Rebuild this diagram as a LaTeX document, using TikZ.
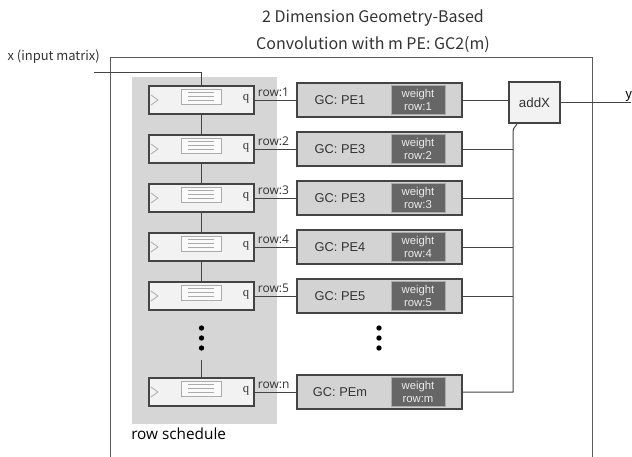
\documentclass[tikz,border=0pt]{standalone}
\usepackage{fontspec}
\setmainfont{Liberation Sans}
\newfontfamily\titlefont{Noto Sans CJK JP}
\newfontfamily\rowfont{Open Sans}
\newfontfamily\qfont{Liberation Serif}
\usetikzlibrary{calc}

\definecolor{linecol}{HTML}{444444}
\definecolor{framecol}{HTML}{5A5A5A}
\definecolor{bgcol}{HTML}{D6D6D6}
\definecolor{pecol}{HTML}{D3D3D3}
\definecolor{wcol}{HTML}{666666}
\definecolor{regcol}{HTML}{F2F2F2}
\definecolor{faint}{HTML}{ABABAB}
\definecolor{txtcol}{HTML}{333333}

\tikzset{
  conn/.style={draw=linecol, line width=0.75pt},
  regbox/.style={draw=linecol, fill=regcol, line width=1pt,
    minimum width=78.75pt, minimum height=21pt, inner sep=0pt},
  pebox/.style={draw=linecol, fill=pecol, line width=0.8pt,
    minimum width=123.75pt, minimum height=25.5pt, inner sep=0pt},
  wbox/.style={draw=faint, fill=wcol, line width=0.4pt, text=white!92!black,
    minimum width=40.5pt, minimum height=21.75pt, inner sep=0pt, align=center,
    font=\fontsize{8.5}{9.8}\selectfont},
  pelab/.style={text=txtcol, inner sep=0pt, font=\fontsize{9.6}{11}\selectfont},
  rowlab/.style={text=txtcol, inner sep=0pt, font=\rowfont\fontsize{9}{10}\selectfont},
  addbox/.style={draw=linecol, fill=regcol, line width=0.9pt,
    minimum width=38.25pt, minimum height=30.75pt, inner sep=0pt,
    text=txtcol, font=\fontsize{10}{12}\selectfont},
  faintline/.style={draw=faint, line width=0.6pt},
  dot/.style={circle, fill=black, inner sep=0pt, minimum size=4pt},
}

\begin{document}
\begin{tikzpicture}[x=0.75pt, y=-0.75pt]
\useasboundingbox (0,0) rectangle (632,457);

% title
\node[text=txtcol, font=\titlefont\fontsize{12}{14}\selectfont] (title1) at (373,18) {2 Dimension Geometry-Based};
\node[text=txtcol, font=\titlefont\fontsize{12}{14}\selectfont] (title2) at (373,45) {Convolution with m PE: GC2(m)};

% outer frame (open at the bottom)
\draw[draw=framecol, line width=0.75pt] (110,460) -- (110,57) -- (592,57) -- (592,460);

% row schedule background
\fill[bgcol] (132,77) rectangle (277,424);
\node[anchor=west, text=black, inner sep=0pt, font=\rowfont\fontsize{11.5}{13}\selectfont] (rslab) at (131,434) {row schedule};

% input label
\node[anchor=east, text=txtcol, inner sep=0pt, font=\titlefont\fontsize{9.7}{11}\selectfont] (xlab) at (100,57) {x (input matrix)};
\coordinate (xin) at (94,72);

% adder
\node[addbox] (addX) at (534.5,102.5) {addX};
\coordinate (yout) at (631,102.5);
\node[anchor=base west, text=black, inner sep=0pt, font=\titlefont\fontsize{9.7}{11}\selectfont] (ylab) at (625,98) {y};

% rows: register, row label, processing element
\foreach \i/\y/\pe/\w in {1/100/PE1/1, 2/149/PE3/2, 3/198/PE3/3, 4/247/PE4/4, 5/296/PE5/5, n/392/PEm/m}{
  \node[regbox] (r\i) at (201.5,\y) {};
  \begin{scope}[shift={(r\i.center)}]
    \draw[faintline] (-50.5,-5) -- (-43.5,0) -- (-50.5,5);
    \draw[faintline, fill=white!60!regcol] (-20.5,-10.7) rectangle (20,4.3);
    \foreach \ly in {-7.3,-3.3,0.7}{
      \draw[faintline] (-13.5,\ly) -- (12.5,\ly);
    }
  \end{scope}
  \node[text=txtcol, inner sep=0pt, font=\qfont\fontsize{9.5}{10}\selectfont] (q\i) at ($(r\i.center)+(44.5,-1)$) {q};
  \node[pebox] (pe\i) at (379.5,\y) {};
  \node[pelab] (g\i) at ($(pe\i.center)+(-39.5,0)$) {GC: \pe};
  \node[wbox] (w\i) at ($(pe\i.center)+(38.5,0)$) {weight\\row:\w};
  \node[rowlab, anchor=base west] (lab\i) at ($(r\i.east)+(3,-3.5)$) {row:\i};
  \draw[conn] (r\i.east) -- (pe\i.west);
}

% register chain
\draw[conn] (xin) -| (r1.north);
\foreach \a/\b in {1/2, 2/3, 3/4, 4/5}{
  \draw[conn] (r\a.south) -- (r\b.north);
}
\coordinate (chainend) at (201.5,360);
\draw[conn] (chainend) -- (rn.north);

% ellipsis dots
\foreach \dy in {328,338,348}{
  \node[dot] at (201.5,\dy) {};
  \node[dot] at (379,\dy) {};
}

% collector bus into the adder
\coordinate (bustop) at (513,132);
\draw[conn] (pe1.east) -- (pe1.east -| addX.west);
\foreach \i in {2,3,4,5}{
  \draw[conn] (pe\i.east) -- (pe\i.east -| bustop);
}
\draw[conn] (pen.east) -- (pen.east -| bustop) -- (bustop)
  .. controls +(0,-5) and +(-1.5,4) .. ($(addX.south)+(-17.5,0)$);

% output
\draw[conn] (addX.east) -- (addX.east -| yout);
\end{tikzpicture}
\end{document}
